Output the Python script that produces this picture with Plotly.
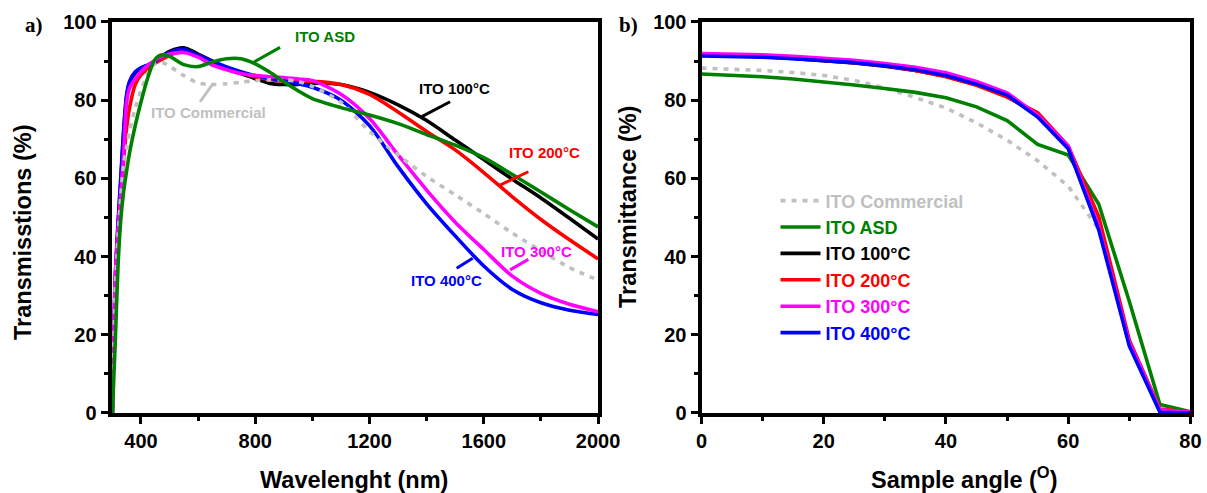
import plotly.graph_objects as go

# ---------------- data: panel a) transmission spectra ----------------
wavelength_nm = [300, 310, 320, 330, 340, 350, 360, 380, 400, 425, 450, 475, 500, 550,
                 600, 650, 700, 750, 800, 850, 900, 950, 1000, 1100, 1200, 1300, 1400,
                 1500, 1600, 1700, 1800, 1900, 2000]

t_commercial = [0, 31, 45, 56, 64, 68, 72, 78, 82.5, 87, 89.4, 89.6, 88.7, 86.3,
                84.4, 84, 84.2, 84.6, 85, 85.2, 85.2, 84.8, 83.5, 79.5, 72, 66, 60.5,
                55.8, 51, 46, 41.5, 37.2, 34]
t_asd = [0, 18, 38, 50, 57, 62, 66.5, 73.5, 79.5, 86, 90.5, 91.6, 91.2, 89.1,
         88.6, 89.8, 90.6, 90.6, 89.3, 87.2, 84.7, 82.4, 80.4, 78.1, 76.2, 74, 71.2,
         68.5, 65.3, 61, 56.5, 52, 47.6]
t_100 = [0, 33, 48, 60, 72.5, 81, 84.5, 87, 88.2, 89, 90, 91.3, 92.5, 93.4,
         91.8, 90, 88, 86.8, 85.5, 84.3, 84, 84, 84.3, 84, 82, 78.8, 74.8,
         69.8, 64.8, 59.8, 55, 49.8, 44.5]
t_200 = [0, 30, 44, 54, 65, 73, 78, 84, 86.5, 88, 89.5, 90.5, 91.5, 92.5,
         91.5, 89.8, 88.3, 87, 86, 85.3, 84.9, 84.8, 84.8, 84, 81.5, 77, 72,
         67.3, 61.5, 55.3, 49.5, 44.3, 39.4]
t_300 = [0, 35, 47, 56.5, 67, 79.5, 83, 85.5, 87.3, 89, 90.2, 91.3, 91.8, 92.2,
         91, 89, 87.8, 86.8, 86.3, 86, 85.8, 85.4, 85, 81.5, 75.3, 66, 57,
         48.8, 41.8, 35, 30.6, 27.8, 25.9]
t_400 = [0, 34, 49, 61, 73, 81.5, 84.8, 87.3, 88.3, 89, 90, 91.2, 92.2, 93,
         91.5, 90, 88.5, 87.3, 86.3, 85.6, 85, 84.2, 83.3, 80, 73.5, 63, 53.5,
         45.3, 37.6, 31.6, 28.2, 26.3, 25.2]

# ---------------- data: panel b) angular transmittance ----------------
angle_deg = [0, 5, 10, 15, 20, 25, 30, 35, 40, 45, 50, 55, 60, 65, 70, 75, 80]

a_commercial = [88.2, 88.0, 87.6, 87.1, 86.3, 85.1, 83.1, 80.7, 78.0, 74.2, 69.8,
                64.5, 58.0, 47.0, 18.0, 0.5, 0.0]
a_asd = [86.7, 86.4, 86.0, 85.4, 84.7, 83.9, 83.0, 82.0, 80.6, 78.3, 74.8,
         68.7, 66.0, 53.4, 28.5, 2.2, 0.3]
a_100 = [91.5, 91.4, 91.1, 90.7, 90.2, 89.5, 88.7, 87.6, 86.1, 84.0, 81.1,
         76.0, 67.9, 47.5, 17.6, 0.5, 0.0]
a_200 = [91.6, 91.5, 91.2, 90.8, 90.3, 89.6, 88.8, 87.6, 86.0, 83.8, 80.8,
         76.8, 68.3, 50.2, 18.6, 1.0, 0.2]
a_300 = [91.9, 91.8, 91.6, 91.2, 90.8, 90.2, 89.4, 88.4, 87.0, 84.8, 81.9,
         76.2, 68.3, 47.6, 18.0, 0.8, 0.2]
a_400 = [91.3, 91.2, 91.0, 90.6, 90.2, 89.6, 88.8, 87.8, 86.3, 84.1, 81.3,
         75.7, 67.6, 46.8, 17.1, 0.2, 0.0]

labels = ["ITO Commercial", "ITO ASD", "ITO 100°C", "ITO 200°C", "ITO 300°C", "ITO 400°C"]
colors = ["#c0c0c0", "#008000", "#000000", "#ff0000", "#ff00ff", "#0000ff"]

FONT = "Liberation Sans, Arial, sans-serif"
LW = 3.6
W, H = 1207, 493

fig = go.Figure()

# panel a) -- drawing order: 100, 200, 400, 300, commercial, ASD
spectra = {
    "ITO 100°C": t_100, "ITO 200°C": t_200, "ITO 400°C": t_400,
    "ITO 300°C": t_300, "ITO Commercial": t_commercial, "ITO ASD": t_asd,
}
for name, vals in spectra.items():
    c = colors[labels.index(name)]
    dash = "5px,6px" if name == "ITO Commercial" else "solid"
    fig.add_trace(go.Scatter(
        x=wavelength_nm, y=vals, mode="lines", name=name, showlegend=False,
        line=dict(color=c, width=LW, dash=dash, shape="spline", smoothing=0.8),
        xaxis="x", yaxis="y"))

# panel b) -- carries the legend
angular = [a_commercial, a_asd, a_100, a_200, a_300, a_400]
for name, vals, c in zip(labels, angular, colors):
    dash = "5px,6px" if name == "ITO Commercial" else "solid"
    fig.add_trace(go.Scatter(
        x=angle_deg, y=vals, mode="lines",
        name=f'<span style="color:{c}">{name}</span>',
        line=dict(color=c, width=LW, dash=dash),
        xaxis="x2", yaxis="y2"))

axis_common = dict(
    showline=True, linewidth=4, linecolor="black", mirror=True,
    ticks="outside", ticklen=7, tickwidth=3, tickcolor="black",
    showgrid=False, zeroline=False, automargin=False,
    tickfont=dict(family=FONT, size=20, color="black", weight="bold"),
    minor=dict(ticks="outside", ticklen=4, tickwidth=3, tickcolor="black"),
)

ydom = [0.1623, 0.9554]
fig.update_layout(
    width=W, height=H, autosize=False,
    margin=dict(l=0, r=0, t=0, b=0, pad=0, autoexpand=False),
    paper_bgcolor="white", plot_bgcolor="white",
    xaxis=dict(domain=[0.0924, 0.4955], range=[297, 2000], tick0=400, dtick=400,
               **{**axis_common, "minor": dict(axis_common["minor"], dtick=200)}),
    yaxis=dict(domain=ydom, range=[0, 100], dtick=20, anchor="x",
               **{**axis_common, "minor": dict(axis_common["minor"], dtick=10)}),
    xaxis2=dict(domain=[0.5812, 0.9863], range=[0, 80], dtick=20, anchor="y2",
                **{**axis_common, "minor": dict(axis_common["minor"], dtick=10)}),
    yaxis2=dict(domain=ydom, range=[0, 100], dtick=20, anchor="x2",
                **{**axis_common, "minor": dict(axis_common["minor"], dtick=10)}),
    legend=dict(x=0.6425, y=0.630, xanchor="left", yanchor="top",
                bgcolor="rgba(0,0,0,0)", borderwidth=0, tracegroupgap=0,
                font=dict(family=FONT, size=18, weight="bold"), itemwidth=40),
)

def txt(x, y, s, color, size=15, xref="x", yref="y", angle=0, family=FONT):
    fig.add_annotation(x=x, y=y, xref=xref, yref=yref, text=s, showarrow=False,
                       textangle=angle, xanchor="center", yanchor="middle",
                       font=dict(family=family, size=size, color=color, weight="bold"))

# axis titles
txt(23 / W, 1 - 233 / H, "Transmisstions (%)", "black", 23.5, "paper", "paper", -90)
txt(354 / W, 1 - 480 / H, "Wavelenght (nm)", "black", 23.5, "paper", "paper")
txt(628 / W, 1 - 207 / H, "Transmittance (%)", "black", 23.5, "paper", "paper", -90)
txt(964 / W, 1 - 478 / H, "Sample angle (<sup>O</sup>)", "black", 23.5, "paper", "paper")

# panel letters
txt(34 / W, 1 - 25 / H, "a)", "black", 21, "paper", "paper", family="Liberation Serif, serif")
txt(628 / W, 1 - 25 / H, "b)", "black", 21, "paper", "paper", family="Liberation Serif, serif")

# curve labels with leader lines in panel a)
curve_labels = [
    ("ITO ASD", 1044, 96.2, (789, 89.5, 887, 93.5)),
    ("ITO Commercial", 635, 76.9, (607, 79.6, 653, 84.3)),
    ("ITO 100°C", 1499, 83.0, (1383, 75.8, 1482, 79.6)),
    ("ITO 200°C", 1814, 66.5, (1657, 58.3, 1756, 61.7)),
    ("ITO 300°C", 1783, 41.3, (1692, 36.6, 1756, 39.3)),
    ("ITO 400°C", 1469, 34.0, (1505, 37.0, 1561, 39.6)),
]
for name, tx, ty, (x0, y0, x1, y1) in curve_labels:
    c = colors[labels.index(name)]
    txt(tx, ty, name, c, 15)
    fig.add_shape(type="line", x0=x0, y0=y0, x1=x1, y1=y1, xref="x", yref="y",
                  line=dict(color=c, width=3))

fig.write_html("out.html")
